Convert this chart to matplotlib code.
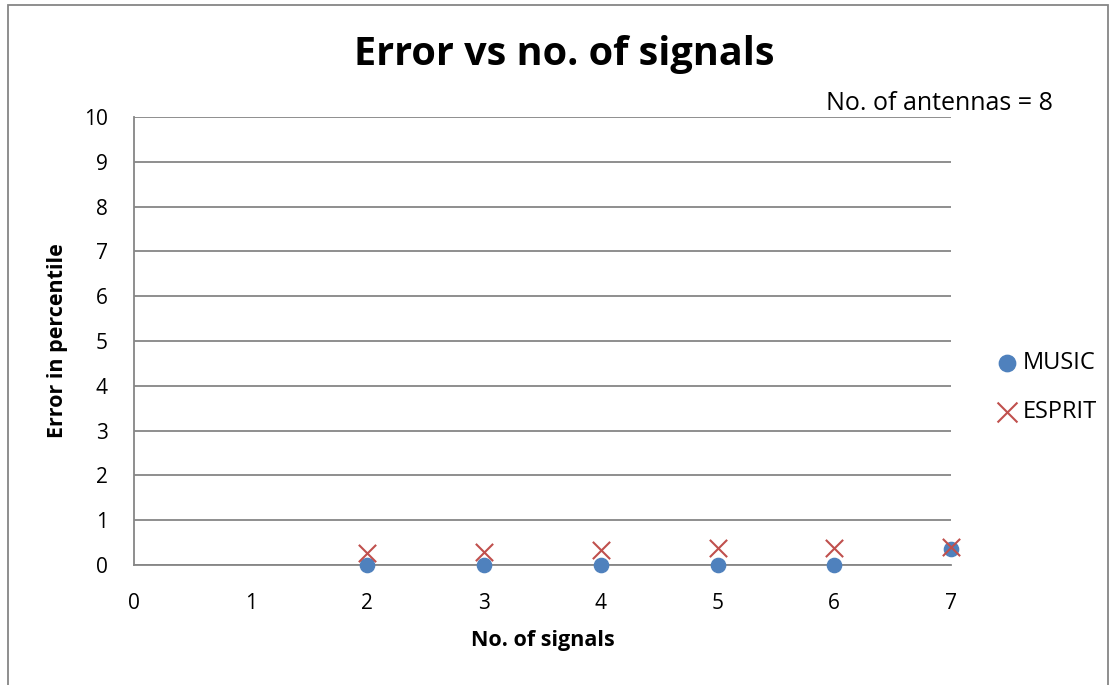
import matplotlib.pyplot as plt
from matplotlib.patches import Rectangle

signals = [2, 3, 4, 5, 6, 7]
music = [0, 0, 0, 0, 0, 0.36]
esprit = [0.27, 0.28, 0.33, 0.39, 0.39, 0.41]

plt.rcParams['font.family'] = ['Open Sans', 'DejaVu Sans']

fig = plt.figure(figsize=(11.11, 6.85), dpi=100)
ax = fig.add_axes([134/1111, 120/685, (951-134)/1111, (565-117)/685])

ax.scatter(signals, music, s=105, color='#4f81bd', marker='o', label='MUSIC', zorder=3, clip_on=False)
ax.scatter(signals, esprit, s=155, color='#c0504d', marker='x', linewidths=1.5, label='ESPRIT', zorder=4, clip_on=False)

ax.set_xlim(0, 7)
ax.set_ylim(0, 10)
ax.set_xticks(range(0, 8))
ax.set_yticks(range(0, 11))
ax.grid(axis='y', color='#868686', linewidth=1.3)
ax.set_axisbelow(True)
for side in ['top', 'right']:
    ax.spines[side].set_visible(False)
for side in ['left', 'bottom']:
    ax.spines[side].set_color('#868686')
    ax.spines[side].set_linewidth(1.3)
ax.tick_params(length=0, labelsize=15)
ax.tick_params(axis='x', pad=20)
ax.tick_params(axis='y', pad=19)

ax.set_xlabel('No. of signals', fontsize=15.5, fontweight='bold', labelpad=12)
ax.set_ylabel('Error in percentile', fontsize=15.5, fontweight='bold', labelpad=11)

fig.text(0.508, 0.921, 'Error vs no. of signals', ha='center', va='center', fontsize=28.5, fontweight='bold')
fig.text(1053/1111, 1 - 103/685, 'No. of antennas = 8', ha='right', va='center', fontsize=18)

ax.legend(loc='center left', bbox_to_anchor=(1.043, 0.396), frameon=False, fontsize=17,
          handlelength=1.0, handletextpad=0.15, labelspacing=1.07, borderaxespad=0,
          markerscale=1.15)

fig.patches.append(Rectangle((8/1111, -0.01), (1108-8)/1111, 1 - 5/685 + 0.01,
                             transform=fig.transFigure, fill=False, edgecolor='#868686', linewidth=1.3))

fig.savefig('out.png', dpi=100)
